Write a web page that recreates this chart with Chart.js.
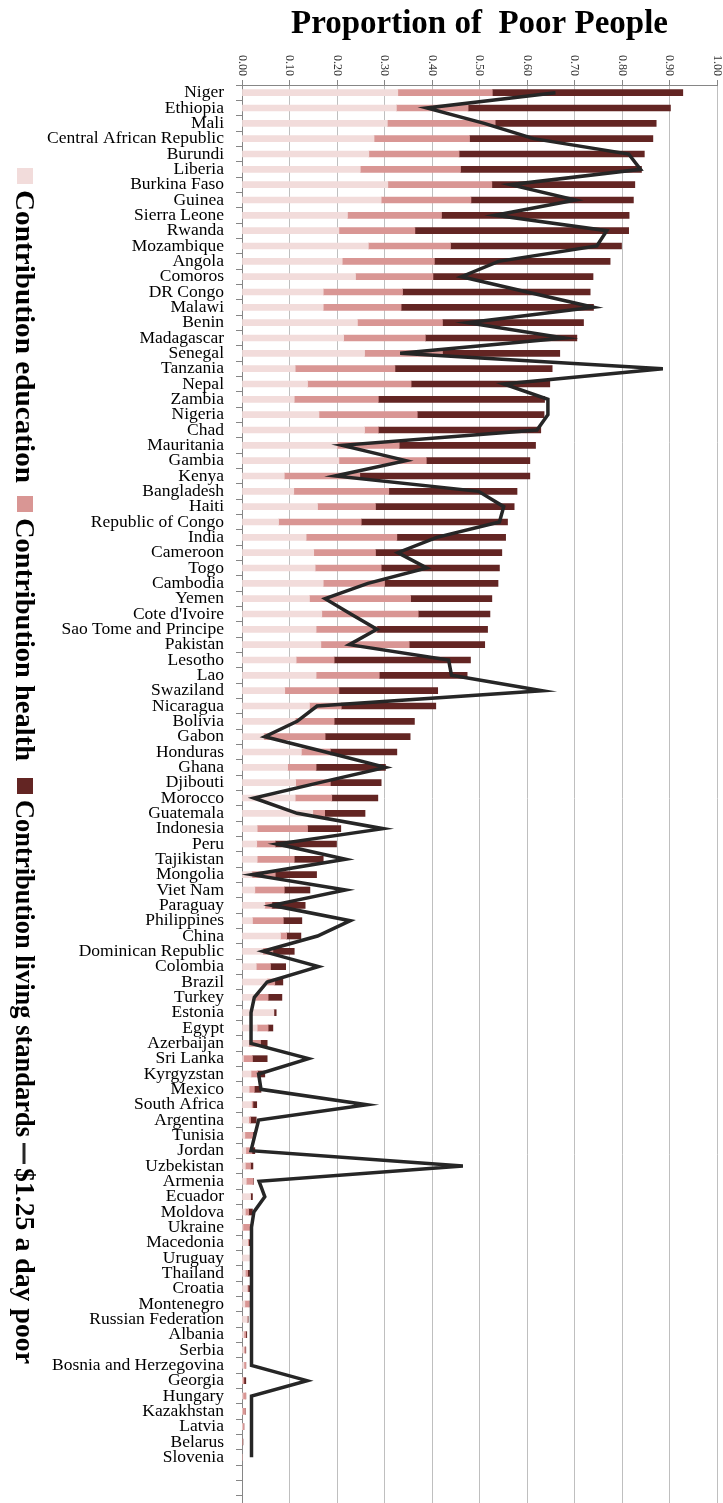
<!DOCTYPE html>
<html>
<head>
<meta charset="utf-8">
<script src="https://cdn.jsdelivr.net/npm/chart.js@4.4.1/dist/chart.umd.min.js"></script>
<style>
  html, body { margin: 0; padding: 0; background: #ffffff; overflow: hidden; }
  #wrap { position: relative; width: 723px; height: 1503px; overflow: hidden; }
  #c { display: block; }
</style>
</head>
<body>
<div id="wrap"><canvas id="c" width="723" height="1511"></canvas></div>
<script>
const countries = ["Niger","Ethiopia","Mali","Central African Republic","Burundi","Liberia","Burkina Faso","Guinea","Sierra Leone","Rwanda",
"Mozambique","Angola","Comoros","DR Congo","Malawi","Benin","Madagascar","Senegal","Tanzania","Nepal",
"Zambia","Nigeria","Chad","Mauritania","Gambia","Kenya","Bangladesh","Haiti","Republic of Congo","India",
"Cameroon","Togo","Cambodia","Yemen","Cote d'Ivoire","Sao Tome and Principe","Pakistan","Lesotho","Lao","Swaziland",
"Nicaragua","Bolivia","Gabon","Honduras","Ghana","Djibouti","Morocco","Guatemala","Indonesia","Peru",
"Tajikistan","Mongolia","Viet Nam","Paraguay","Philippines","China","Dominican Republic","Colombia","Brazil","Turkey",
"Estonia","Egypt","Azerbaijan","Sri Lanka","Kyrgyzstan","Mexico","South Africa","Argentina","Tunisia","Jordan",
"Uzbekistan","Armenia","Ecuador","Moldova","Ukraine","Macedonia","Uruguay","Thailand","Croatia","Montenegro",
"Russian Federation","Albania","Serbia","Bosnia and Herzegovina","Georgia","Hungary","Kazakhstan","Latvia","Belarus","Slovenia",
"","",""];

const eduContribution = [0.328,0.325,0.306,0.278,0.267,0.249,0.307,0.293,0.222,0.204,
0.266,0.211,0.239,0.171,0.171,0.243,0.214,0.258,0.112,0.138,
0.110,0.162,0.258,0.200,0.204,0.089,0.109,0.159,0.077,0.135,
0.151,0.154,0.171,0.142,0.168,0.156,0.166,0.114,0.156,0.090,
0.142,0.112,0.046,0.125,0.096,0.113,0.112,0.149,0.032,0.031,
0.032,0.021,0.027,0.048,0.022,0.081,0.044,0.030,0.053,0.028,
0.067,0.032,0.014,0.003,0.019,0.015,0.020,0.014,0.006,0.008,
0.007,0.009,0.018,0.007,0.002,0.012,0.018,0.007,0.011,0.006,
0.011,0.004,0.004,0.004,0.001,0.002,0.001,0.001,0.000,0.000];

const healthContribution = [0.199,0.151,0.227,0.201,0.190,0.211,0.219,0.189,0.198,0.160,
0.173,0.194,0.163,0.167,0.164,0.179,0.172,0.164,0.210,0.218,
0.177,0.207,0.029,0.131,0.184,0.159,0.200,0.122,0.174,0.191,
0.130,0.139,0.129,0.213,0.203,0.128,0.186,0.080,0.133,0.114,
0.067,0.082,0.129,0.061,0.060,0.073,0.077,0.025,0.106,0.039,
0.078,0.049,0.062,0.015,0.065,0.013,0.021,0.030,0.016,0.027,
0.000,0.023,0.025,0.019,0.014,0.011,0.003,0.004,0.017,0.013,
0.011,0.014,0.000,0.007,0.016,0.002,0.000,0.005,0.002,0.009,
0.000,0.004,0.003,0.004,0.003,0.006,0.006,0.003,0.000,0.000];

const livingContribution = [0.401,0.426,0.339,0.386,0.390,0.381,0.301,0.342,0.395,0.450,
0.360,0.370,0.337,0.395,0.405,0.297,0.319,0.247,0.331,0.292,
0.350,0.267,0.342,0.287,0.218,0.358,0.270,0.292,0.308,0.229,
0.266,0.249,0.239,0.171,0.151,0.233,0.159,0.287,0.185,0.208,
0.199,0.169,0.179,0.140,0.146,0.107,0.097,0.085,0.070,0.129,
0.061,0.087,0.054,0.070,0.039,0.030,0.045,0.032,0.017,0.029,
0.005,0.010,0.014,0.031,0.015,0.014,0.008,0.012,0.002,0.006,
0.005,0.001,0.004,0.008,0.000,0.004,0.000,0.004,0.003,0.000,
0.002,0.002,0.001,0.000,0.004,0.000,0.000,0.000,0.002,0.000];

const poor125 = [0.660,0.389,0.510,0.614,0.814,0.839,0.565,0.702,0.533,0.768,
0.747,0.540,0.462,0.600,0.740,0.475,0.679,0.333,0.886,0.551,
0.644,0.644,0.621,0.211,0.345,0.196,0.498,0.551,0.542,0.410,
0.328,0.389,0.265,0.175,0.229,0.284,0.226,0.435,0.441,0.632,
0.158,0.116,0.048,0.176,0.302,0.163,0.025,0.116,0.297,0.074,
0.218,0.021,0.218,0.063,0.228,0.159,0.044,0.161,0.053,0.026,
0.019,0.019,0.019,0.140,0.035,0.040,0.263,0.035,0.027,0.019,
0.465,0.036,0.048,0.025,0.020,0.020,0.020,0.020,0.020,0.020,
0.020,0.020,0.020,0.020,0.137,0.020,0.020,0.020,0.020,0.020];

const xTickValues = [0,0.1,0.2,0.3,0.4,0.5,0.6,0.7,0.8,0.9,1.0];
const xTickLabels = ["0.00","0.10","0.20","0.30","0.40","0.50","0.60","0.70","0.80","0.90","1.00"];
const titleText = "Proportion of  Poor People";
const seriesNames = ["Contribution education","Contribution health","Contribution living standards","$1.25 a day poor"];

const SERIF = '"Liberation Serif", "Times New Roman", serif';
const C_EDU = '#F2DCDB', C_HEALTH = '#D99694', C_LIVING = '#632523', C_LINE = '#262626';

// legend layout (screen y where each entry's symbol starts, and the length its text spans)
const legendSymbolY = [168, 496, 778, 1143];
const legendTextLen = [293, 243, 337, 196];

const overlay = {
  id: 'overlay',
  afterDraw(chart) {
    const ctx = chart.ctx;
    const xs = chart.scales.x;
    const area = chart.chartArea;
    ctx.save();
    // rotated x tick labels (read top to bottom)
    ctx.font = '12px ' + SERIF;
    ctx.fillStyle = '#333333';
    ctx.textAlign = 'right';
    ctx.textBaseline = 'middle';
    xTickValues.forEach((v, i) => {
      const px = xs.getPixelForValue(v);
      ctx.save();
      ctx.translate(px, area.top - 9);
      ctx.rotate(Math.PI / 2);
      ctx.fillText(xTickLabels[i], 0, 0);
      ctx.restore();
    });
    // title
    ctx.font = 'bold 33px ' + SERIF;
    ctx.fillStyle = '#000000';
    ctx.textAlign = 'center';
    ctx.textBaseline = 'alphabetic';
    ctx.fillText(titleText, (area.left + area.right) / 2, 33);
    // rotated legend on the left
    ctx.font = 'bold 27px ' + SERIF;
    ctx.textAlign = 'left';
    const baseX = 16;
    const boxColors = [C_EDU, C_HEALTH, C_LIVING];
    for (let i = 0; i < 4; i++) {
      let y = legendSymbolY[i];
      if (i < 3) {
        ctx.fillStyle = boxColors[i];
        ctx.fillRect(17, y, 16, 16);
        y += 22;
      } else {
        ctx.strokeStyle = C_LINE;
        ctx.lineWidth = 3;
        ctx.beginPath();
        ctx.moveTo(24, y);
        ctx.lineTo(24, y + 21);
        ctx.stroke();
        y += 25;
      }
      const natural = ctx.measureText(seriesNames[i]).width;
      ctx.save();
      ctx.translate(baseX, y);
      ctx.rotate(Math.PI / 2);
      ctx.scale(legendTextLen[i] / natural, 1);
      ctx.fillStyle = '#000000';
      ctx.fillText(seriesNames[i], 0, 0);
      ctx.restore();
    }
    ctx.restore();
  }
};

const chart = new Chart(document.getElementById('c'), {
  type: 'bar',
  data: {
    labels: countries,
    datasets: [
      { type: 'line', label: seriesNames[3], data: poor125, indexAxis: 'y', stack: 'line', order: 0,
        borderColor: C_LINE, backgroundColor: C_LINE, borderWidth: 3.5, pointRadius: 0, tension: 0, fill: false },
      { label: seriesNames[0], data: eduContribution, indexAxis: 'y', stack: 'bars', order: 1,
        backgroundColor: C_EDU, barThickness: 6 },
      { label: seriesNames[1], data: healthContribution, indexAxis: 'y', stack: 'bars', order: 1,
        backgroundColor: C_HEALTH, barThickness: 6 },
      { label: seriesNames[2], data: livingContribution, indexAxis: 'y', stack: 'bars', order: 1,
        backgroundColor: C_LIVING, barThickness: 6 }
    ]
  },
  options: {
    indexAxis: 'y',
    responsive: false,
    animation: false,
    devicePixelRatio: 1,
    layout: { padding: { top: 40, right: 6, left: 0, bottom: 0 } },
    plugins: { legend: { display: false }, title: { display: false }, tooltip: { enabled: false } },
    scales: {
      x: {
        position: 'top', min: 0, max: 1, stacked: true,
        ticks: { display: false, stepSize: 0.1 },
        grid: { color: '#BFBFBF', tickColor: '#868686', tickLength: 5, drawTicks: true },
        border: { display: true, color: '#868686' },
        afterFit(scale) { scale.height = 45; scale.paddingLeft = 0; scale.paddingRight = 0; }
      },
      y: {
        position: 'left', stacked: true,
        ticks: { autoSkip: false, color: '#000000', padding: 12, font: { family: SERIF, size: 17.5 } },
        grid: { drawOnChartArea: false, tickLength: 6, color: '#868686', offset: true },
        border: { display: true, color: '#868686' },
        afterFit(scale) { scale.width = 242; scale.paddingTop = 0; scale.paddingBottom = 0; }
      }
    }
  },
  plugins: [overlay]
});
</script>
</body>
</html>
